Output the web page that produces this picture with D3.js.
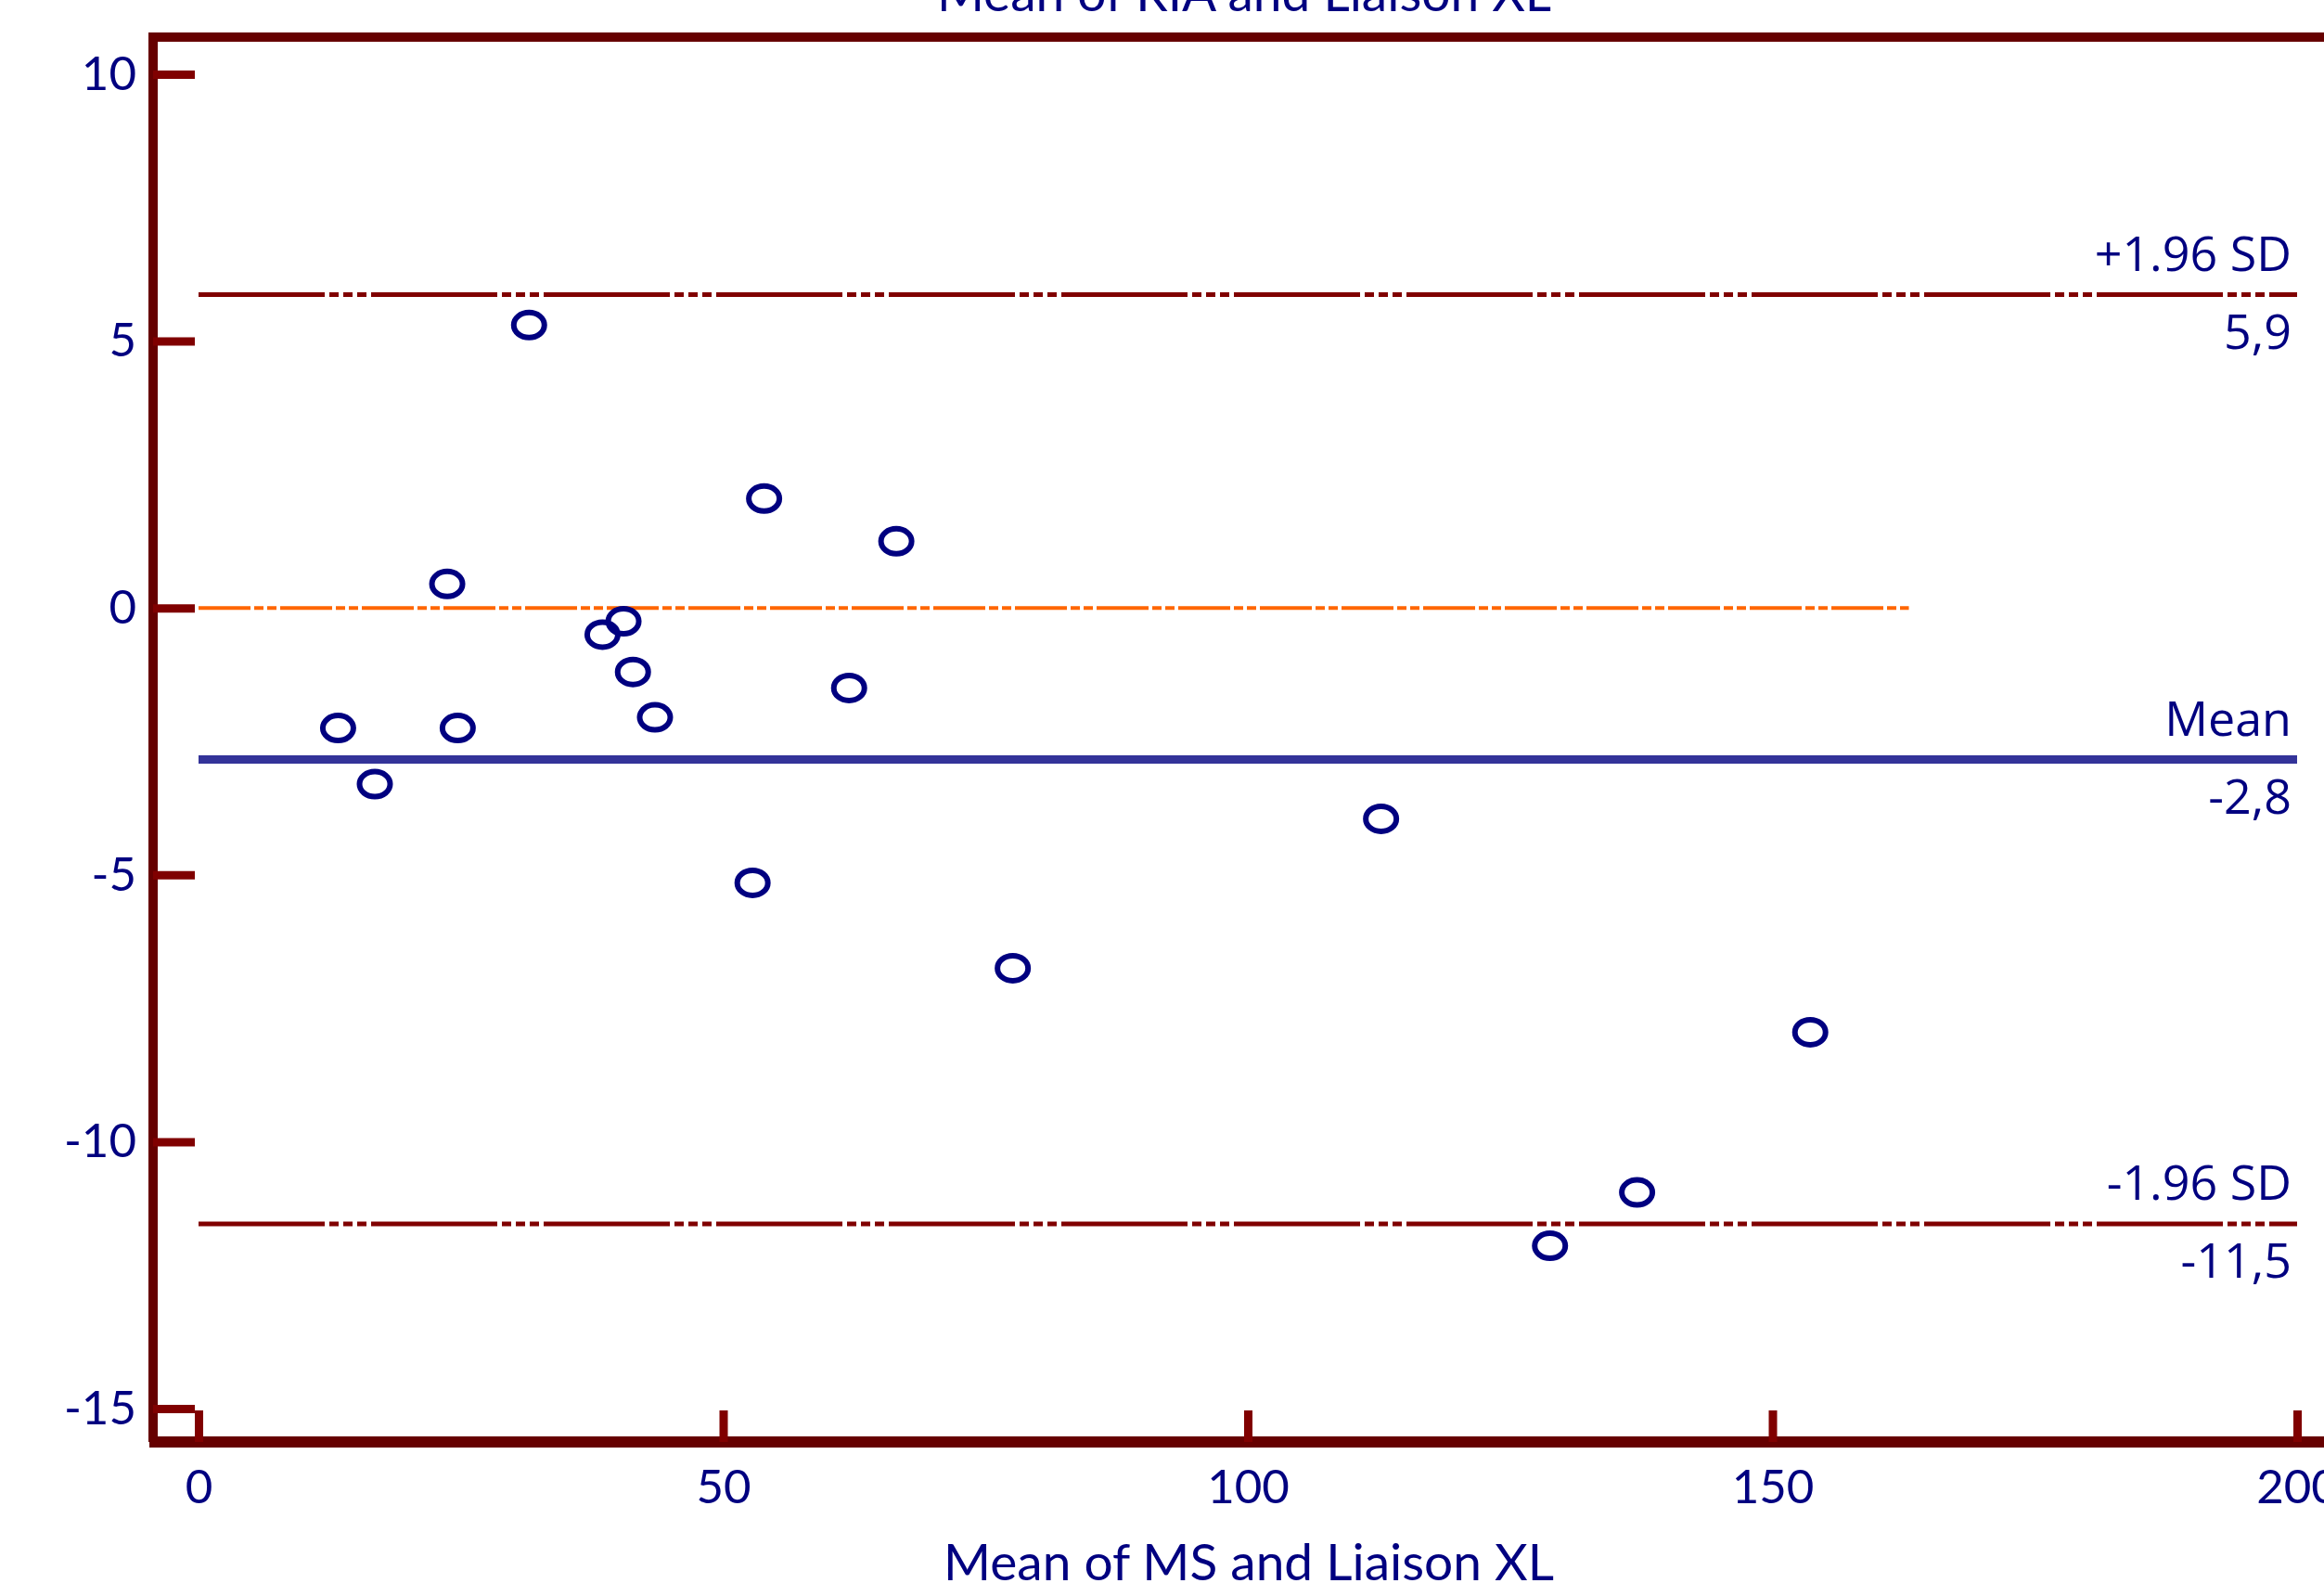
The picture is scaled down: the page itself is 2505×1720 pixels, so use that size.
<!DOCTYPE html>
<html>
<head>
<meta charset="utf-8">
<script src="https://cdn.jsdelivr.net/npm/d3@7"></script>
<style>
  body { margin: 0; background: #fff; }
  svg { display: block; }
</style>
</head>
<body>
<svg id="bland" width="2505" height="1720"></svg>
<script>
// means of the two methods (x) and their differences (y)
const meanValues = [13.3, 16.8, 23.7, 24.7, 31.5, 38.5, 40.5, 41.4, 43.5, 52.8, 53.9, 62.0, 66.5, 77.6, 112.7, 128.8, 137.1, 153.6];
const diffValues = [-2.25, -3.3, 0.45, -2.25, 5.3, -0.5, -0.25, -1.2, -2.05, -5.15, 2.05, -1.5, 1.25, -6.75, -3.95, -11.95, -10.95, -7.95];

const xTicks = [0, 50, 100, 150, 200];
const yTicks = [10, 5, 0, -5, -10, -15];

const meanDiff = -2.84;
const upperLimit = 5.87;
const lowerLimit = -11.54;
const zeroLineEnd = 163;

const title = 'Mean of RIA and Liaison XL';
const xTitle = 'Mean of MS and Liaison XL';

const svg = d3.select('#bland'),
    frame = {left: 165, top: 40, bottom: 1554, right: 2530},
    navy = '#000080',
    maroon = '#660000';

const x = d3.scaleLinear()
  .domain([0, 200])
  .range([214, 2476]);

const y = d3.scaleLinear()
  .domain([-15, 10])
  .range([1518, 80]);

const fmt = v => d3.format('.1f')(v).replace('.', ',').replace('\u2212', '-');

// frame
svg.append('path')
  .attr('d', `M${frame.left},${frame.bottom}V${frame.top}H${frame.right}`)
  .attr('fill', 'none')
  .attr('stroke', maroon)
  .attr('stroke-width', 10);

svg.append('line')
  .attr('x1', frame.left - 4).attr('x2', frame.right)
  .attr('y1', frame.bottom).attr('y2', frame.bottom)
  .attr('stroke', maroon)
  .attr('stroke-width', 12);

// axes
const yAxis = svg.append('g')
  .attr('transform', `translate(${frame.left},0)`)
  .call(d3.axisLeft(y).tickValues(yTicks).tickFormat(d => String(d)).tickSize(-45).tickPadding(18));

const xAxis = svg.append('g')
  .attr('transform', `translate(0,${frame.bottom})`)
  .call(d3.axisBottom(x).tickValues(xTicks).tickFormat(d => String(d)).tickSize(-34).tickPadding(30));

[xAxis, yAxis].forEach(ax => {
  ax.select('.domain').remove();
  ax.selectAll('.tick line')
    .attr('stroke', '#800000')
    .attr('stroke-width', 9);
  ax.selectAll('.tick text')
    .attr('fill', navy)
    .attr('font-family', 'Lato, sans-serif')
    .attr('font-size', 51);
});

// titles
svg.append('text')
  .attr('x', 1341).attr('y', 12)
  .attr('text-anchor', 'middle')
  .attr('font-family', 'Lato, sans-serif')
  .attr('font-size', 55)
  .attr('fill', navy)
  .text(title);

svg.append('text')
  .attr('x', 1346).attr('y', 1703)
  .attr('text-anchor', 'middle')
  .attr('font-family', 'Lato, sans-serif')
  .attr('font-size', 55)
  .attr('fill', navy)
  .text(xTitle);

// zero line
svg.append('line')
  .attr('x1', x(0)).attr('x2', x(zeroLineEnd))
  .attr('y1', y(0)).attr('y2', y(0))
  .attr('stroke', '#ff6600')
  .attr('stroke-width', 4)
  .attr('stroke-dasharray', '56 4 10 4 10 4');

// limits of agreement
const refLines = [
  {value: upperLimit, name: '+1.96 SD', color: '#800000', width: 5, dash: '136 5 10 5 10 5 10 5'},
  {value: meanDiff, name: 'Mean', color: '#333399', width: 9, dash: null},
  {value: lowerLimit, name: '-1.96 SD', color: '#800000', width: 5, dash: '136 5 10 5 10 5 10 5'}
];

refLines.forEach(r => {
  svg.append('line')
    .attr('x1', x(0)).attr('x2', x(200))
    .attr('y1', y(r.value)).attr('y2', y(r.value))
    .attr('stroke', r.color)
    .attr('stroke-width', r.width)
    .attr('stroke-dasharray', r.dash);

  svg.append('text')
    .attr('x', 2470).attr('y', y(r.value) - 26)
    .attr('text-anchor', 'end')
    .attr('font-family', '"Open Sans", sans-serif')
    .attr('font-size', 52)
    .attr('fill', navy)
    .text(r.name);

  svg.append('text')
    .attr('x', 2470).attr('y', y(r.value) + 58)
    .attr('text-anchor', 'end')
    .attr('font-family', '"Open Sans", sans-serif')
    .attr('font-size', 52)
    .attr('fill', navy)
    .text(fmt(r.value));
});

// points
svg.append('g')
  .selectAll('ellipse')
  .data(meanValues.map((m, i) => [m, diffValues[i]]))
  .join('ellipse')
    .attr('cx', d => x(d[0]))
    .attr('cy', d => y(d[1]))
    .attr('rx', 16.5)
    .attr('ry', 13.5)
    .attr('fill', 'none')
    .attr('stroke', navy)
    .attr('stroke-width', 6);
</script>
</body>
</html>
